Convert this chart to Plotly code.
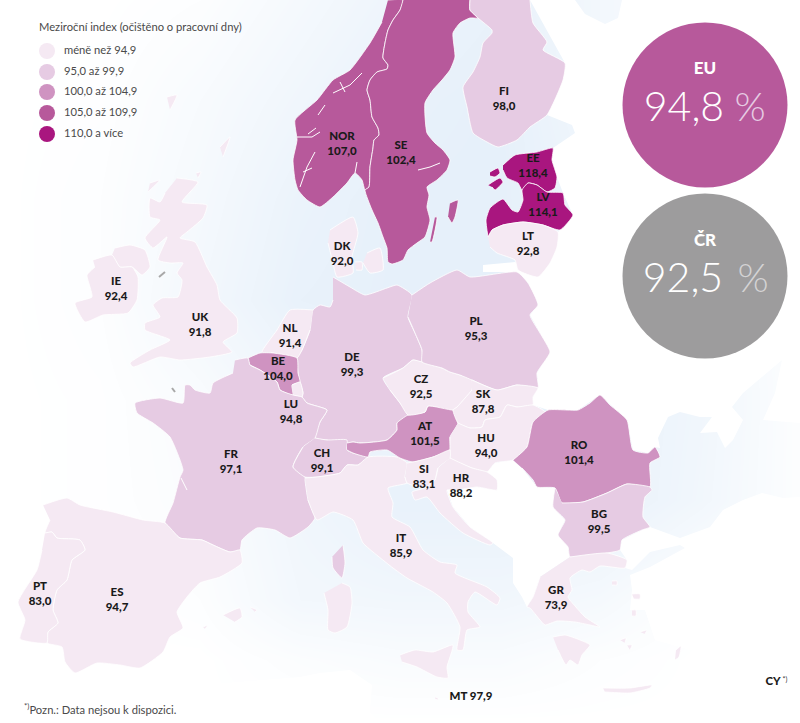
import plotly.graph_objects as go

# Colours of the five classes
class_colors = ["#f5e9f3", "#e6cbe3", "#cf93c1", "#b7599b", "#a9167f"]
legend_title = "Meziroční index (očištěno o pracovní dny)"
legend_labels = ["méně než 94,9", "95,0 až 99,9", "100,0 až 104,9", "105,0 až 109,9", "110,0 a více"]
legend_y = [51, 72, 92, 113, 134]

# Labels on the map
label_codes = ["NOR", "SE", "FI", "EE", "LV", "LT", "DK", "IE", "UK", "NL", "BE", "LU", "DE", "PL", "CZ", "SK",
               "AT", "HU", "RO", "SI", "HR", "CH", "FR", "BG", "IT", "GR", "ES", "PT"]
label_values = ["107,0", "102,4", "98,0", "118,4", "114,1", "92,8", "92,0", "92,4", "91,8", "91,4", "104,0", "94,8",
                "99,3", "95,3", "92,5", "87,8", "101,5", "94,0", "101,4", "83,1", "88,2", "99,1", "97,1", "99,5",
                "85,9", "73,9", "94,7", "83,0"]
label_x = [342, 401, 504, 533, 543, 528, 342, 116, 200, 290, 278, 291, 352, 476, 421, 483,
           425, 486, 579, 424, 461, 322, 231, 599, 401, 556, 117, 40]
label_y = [145, 154, 100, 167, 206, 245, 255, 290, 326, 337, 370, 413, 366, 330, 388, 403,
           435, 447, 454, 478, 487, 462, 463, 523, 547, 599, 601, 595]

# Country outlines in image pixels
norway = [(388, 0), (403, 0), (400, 10), (393, 20), (388, 30), (385, 43), (383, 58), (388, 65), (387, 69), (377, 72),
          (370, 80), (367, 90), (370, 100), (372, 117), (378, 128), (379, 135), (374, 140), (373, 148), (370, 167),
          (369, 187), (365, 190), (362, 180), (355, 173), (347, 183), (333, 197), (320, 207), (307, 200), (298, 190),
          (295, 180), (293, 160), (297, 140), (295, 120), (317, 100), (333, 80), (350, 70), (370, 43), (382, 22)]
sweden = [(403, 0), (400, 10), (393, 20), (388, 30), (385, 43), (383, 58), (388, 65), (387, 69), (377, 72), (370, 80),
          (367, 90), (370, 100), (372, 117), (378, 128), (379, 135), (374, 140), (373, 148), (370, 167), (369, 187),
          (365, 190), (368, 200), (372, 210), (378, 223), (383, 237), (387, 248), (388, 262), (392, 264), (403, 260),
          (408, 250), (417, 243), (425, 237), (430, 220), (427, 207), (429, 195), (427, 187), (437, 180), (447, 170),
          (450, 160), (443, 150), (435, 143), (427, 133), (425, 103), (433, 90), (442, 80), (450, 70), (455, 57),
          (453, 33), (460, 23), (470, 18), (478, 18), (470, 10), (470, 0), None,
          (450, 203), (458, 200), (455, 217), (452, 223), (448, 217), None,
          (435, 217), (437, 217), (432, 242), (430, 242)]
finland = [(470, 0), (470, 10), (478, 18), (492, 30), (492, 33), (483, 43), (480, 57), (473, 72), (463, 87), (467, 107),
           (473, 133), (487, 142), (498, 147), (517, 140), (530, 127), (547, 115), (563, 80), (565, 63), (543, 50),
           (547, 42), (533, 23), (530, 0)]
estonia = [(503, 165), (515, 155), (537, 152), (553, 148), (552, 160), (557, 177), (555, 188), (547, 192), (537, 185),
           (528, 183), (522, 190), (518, 183), (507, 178), (503, 170), None,
           (490, 172), (498, 168), (500, 173), (495, 177), (490, 176), None,
           (488, 185), (500, 178), (503, 182), (495, 190), (492, 187)]
latvia = [(488, 237), (486, 220), (490, 208), (503, 199), (512, 210), (518, 212), (523, 200), (522, 190), (528, 183),
          (537, 185), (547, 192), (563, 193), (565, 205), (573, 215), (560, 230), (543, 225), (523, 222), (503, 225),
          (492, 230)]
lithuania = [(488, 237), (492, 230), (503, 225), (523, 222), (543, 225), (558, 232), (557, 247), (550, 263), (538, 277),
             (518, 270), (515, 260), (497, 253), (490, 247)]
denmark = [(330, 230), (353, 217), (358, 233), (352, 257), (353, 273), (337, 277), (333, 263), (328, 243), None,
           (367, 253), (380, 248), (383, 270), (370, 273), (363, 263), None,
           (355, 262), (362, 262), (362, 270), (356, 270)]
germany = [(333, 277), (350, 287), (365, 295), (387, 288), (397, 285), (412, 295), (408, 317), (415, 333), (422, 350),
           (422, 362), (413, 360), (403, 368), (383, 378), (390, 390), (400, 403), (408, 415), (397, 423), (397, 430),
           (387, 440), (360, 443), (353, 442), (347, 443), (327, 440), (315, 438), (320, 422), (327, 410), (307, 403),
           (302, 397), (303, 393), (300, 382), (298, 373), (297, 358), (302, 350), (310, 330), (313, 310), (320, 305),
           (330, 307), (333, 300)]
netherlands = [(313, 310), (290, 310), (277, 330), (262, 352), (273, 353), (297, 358), (302, 350), (310, 330)]
belgium = [(248, 358), (260, 353), (273, 353), (297, 358), (298, 373), (300, 382), (292, 385), (293, 395), (280, 390),
           (277, 382), (260, 370), (250, 365)]
luxembourg = [(292, 385), (300, 382), (303, 393), (302, 397), (293, 395)]
france = [(235, 360), (248, 358), (250, 365), (260, 370), (277, 382), (280, 390), (293, 395), (302, 397), (307, 403),
          (327, 410), (320, 422), (315, 438), (303, 447), (293, 467), (305, 477), (305, 480), (308, 500), (315, 518),
          (308, 527), (290, 538), (275, 530), (257, 528), (242, 540), (240, 550), (230, 552), (213, 545), (202, 540),
          (180, 538), (165, 523), (173, 503), (180, 477), (183, 470), (170, 437), (153, 423), (137, 413), (135, 403),
          (160, 398), (183, 403), (185, 385), (190, 385), (195, 390), (210, 393), (213, 383), (233, 373), None,
          (343, 545), (345, 563), (342, 578), (333, 568), (332, 557)]
switzerland = [(315, 438), (327, 440), (347, 440), (347, 450), (353, 453), (368, 457), (358, 465), (347, 465), (340, 473),
               (317, 477), (305, 477), (293, 467), (303, 447)]
italy = [(305, 478), (317, 477), (340, 473), (347, 465), (358, 465), (368, 457), (397, 457), (407, 463), (405, 477),
         (407, 483), (388, 488), (393, 503), (392, 517), (410, 527), (423, 550), (440, 562), (457, 565), (455, 573),
         (487, 587), (500, 598), (497, 605), (475, 592), (468, 602), (468, 612), (480, 627), (467, 630), (463, 650),
         (457, 650), (460, 627), (447, 603), (433, 592), (407, 578), (393, 568), (373, 552), (363, 543), (353, 520),
         (333, 512), (317, 520), (308, 500), None,
         (342, 583), (350, 587), (352, 603), (347, 627), (335, 633), (328, 630), (328, 610), (324, 593), None,
         (400, 655), (415, 650), (433, 652), (453, 645), (447, 667), (448, 678), (437, 677), (417, 667), (402, 662)]
austria = [(347, 443), (353, 442), (360, 443), (387, 440), (397, 430), (397, 423), (408, 415), (425, 412), (428, 406),
           (453, 410), (458, 423), (450, 437), (450, 450), (433, 457), (413, 462), (400, 458), (387, 450), (370, 452),
           (368, 457), (353, 453), (347, 450)]
czechia = [(383, 378), (403, 368), (413, 360), (422, 362), (442, 368), (450, 372), (460, 375), (472, 380), (472, 390),
           (457, 407), (453, 410), (428, 406), (425, 412), (408, 415), (400, 403), (390, 390)]
poland = [(412, 295), (430, 283), (457, 270), (470, 277), (517, 272), (528, 283), (538, 305), (530, 315), (540, 333),
          (550, 352), (537, 373), (538, 388), (517, 385), (497, 390), (472, 380), (460, 375), (450, 372), (442, 368),
          (422, 362), (422, 350), (415, 333), (408, 317)]
slovakia = [(472, 380), (497, 390), (517, 385), (538, 388), (533, 397), (533, 405), (517, 407), (507, 405), (500, 417),
            (485, 420), (482, 427), (470, 428), (458, 423), (453, 410), (457, 407), (472, 390)]
hungary = [(458, 423), (470, 428), (482, 427), (485, 420), (500, 417), (507, 405), (517, 407), (533, 405), (545, 412),
           (533, 422), (527, 447), (513, 460), (495, 463), (487, 472), (472, 468), (450, 458), (450, 450), (450, 437)]
slovenia = [(407, 463), (413, 462), (433, 457), (450, 450), (450, 458), (438, 468), (435, 480), (425, 488), (407, 483),
            (405, 477)]
croatia = [(450, 458), (472, 468), (487, 472), (497, 480), (497, 490), (477, 487), (457, 490), (447, 490), (453, 507),
           (470, 527), (493, 543), (490, 545), (463, 533), (440, 513), (427, 497), (415, 500), (412, 492), (425, 488),
           (435, 480), (438, 468)]
romania = [(513, 460), (527, 447), (533, 422), (548, 410), (567, 410), (578, 410), (590, 403), (600, 395), (610, 405),
           (627, 420), (633, 450), (648, 453), (655, 447), (660, 457), (650, 463), (650, 487), (627, 484), (607, 493),
           (583, 502), (562, 503), (555, 488), (537, 487), (533, 480), (522, 468)]
bulgaria = [(562, 503), (583, 502), (607, 493), (627, 484), (650, 487), (652, 490), (645, 497), (643, 517), (650, 527),
            (642, 530), (622, 540), (620, 550), (607, 553), (570, 557), (568, 547), (558, 535), (565, 520), (553, 507),
            (555, 488)]
greece = [(570, 557), (607, 553), (627, 560), (625, 568), (600, 566), (590, 572), (582, 570), (570, 578), (572, 590),
          (568, 597), (575, 606), (585, 617), (600, 627), (590, 625), (575, 622), (557, 621), (545, 625), (540, 620),
          (530, 608), (527, 607), (533, 597), (540, 577), None,
          (553, 637), (565, 635), (580, 640), (590, 645), (582, 655), (578, 665), (570, 660), (566, 665), (558, 650), None,
          (603, 688), (630, 688), (652, 685), (650, 688), (630, 693), (605, 692), None,
          (632, 594), (640, 594), (640, 599), (634, 599), None,
          (632, 610), (636, 610), (636, 616), (632, 616), None,
          (612, 581), (617, 581), (617, 585), (612, 585), None,
          (676, 650), (681, 646), (679, 657), (675, 660), None,
          (620, 640), (626, 638), (625, 643), None, (640, 632), (647, 630), (645, 634), None,
          (627, 645), (632, 645), (630, 650)]
spain = [(43, 505), (67, 498), (80, 505), (113, 512), (143, 520), (165, 523), (180, 538), (202, 540), (213, 545),
         (230, 552), (240, 550), (242, 563), (220, 577), (200, 583), (187, 597), (177, 612), (183, 628), (170, 637),
         (163, 652), (140, 668), (120, 665), (97, 663), (75, 673), (65, 662), (62, 647), (47, 643), (48, 632), (58, 623),
         (53, 610), (57, 590), (67, 580), (72, 560), (85, 550), (80, 540), (57, 538), (52, 532), (45, 533), (50, 520), None,
         (223, 615), (240, 608), (242, 617), (235, 622), None,
         (250, 607), (257, 610), (255, 612), None, (203, 627), (208, 625), (205, 629)]
portugal = [(45, 533), (52, 532), (57, 538), (80, 540), (85, 550), (72, 560), (67, 580), (57, 590), (53, 610), (58, 623),
            (48, 632), (47, 643), (20, 639), (25, 620), (18, 602), (37, 570), (42, 550)]
britain = [(177, 178), (198, 182), (182, 202), (207, 205), (203, 218), (187, 232), (180, 238), (195, 242), (207, 267),
           (217, 285), (220, 300), (237, 318), (237, 333), (223, 342), (232, 352), (210, 357), (180, 360), (160, 357),
           (133, 367), (130, 363), (150, 350), (170, 340), (145, 330), (145, 323), (160, 317), (153, 305), (162, 298),
           (178, 297), (182, 280), (177, 273), (183, 263), (170, 263), (158, 260), (167, 237), (153, 248), (145, 238),
           (160, 220), (150, 217), (150, 198), (160, 202), (165, 193), None,
           (115, 248), (130, 245), (145, 250), (150, 267), (142, 275), (132, 267), (120, 267), (112, 255), None,
           (150, 183), (160, 180), (148, 192), None, (196, 173), (201, 172), (198, 178), None,
           (220, 147), (230, 137), (223, 157), None, (167, 97), (177, 95), (170, 110)]
ireland = [(93, 260), (112, 255), (120, 267), (132, 267), (138, 277), (137, 300), (128, 313), (103, 315), (85, 322),
           (75, 303), (92, 297), (90, 287), (87, 275), (95, 267)]
malta = [(435, 697), (438, 698), (438, 700), (435, 699)]

countries = [norway, sweden, finland, estonia, latvia, lithuania, denmark, germany, netherlands, belgium, luxembourg,
             france, switzerland, italy, austria, czechia, poland, slovakia, hungary, slovenia, croatia, romania,
             bulgaria, greece, spain, portugal, britain, ireland, malta]
# class index of each country, as coloured in the picture
country_classes = [3, 3, 1, 4, 4, 0, 0, 1, 0, 2, 0,
                   1, 1, 0, 2, 0, 1, 0, 0, 0, 0, 2,
                   1, 0, 0, 0, 0, 0, 0]

# Land outside the data stays white
russia = [(545, 0), (575, 0), (585, 14), (605, 24), (618, 18), (622, 0), (800, 0), (800, 423), (763, 420), (775, 393),
          (782, 360), (767, 373), (743, 393), (732, 407), (743, 420), (733, 440), (725, 448), (717, 432), (700, 433),
          (712, 417), (700, 417), (680, 412), (668, 417), (658, 438), (660, 448), (655, 447), (648, 453), (633, 450),
          (627, 420), (600, 395), (578, 410), (548, 410), (533, 405), (533, 397), (538, 388), (537, 373), (550, 352),
          (540, 333), (530, 315), (538, 305), (528, 283), (517, 272), (483, 272), (483, 265), (515, 262), (538, 277),
          (550, 263), (558, 232), (573, 215), (563, 193), (557, 177), (552, 160), (553, 148), (575, 133), (572, 125),
          (547, 115), (565, 63), (530, 0)]
balkans = [(513, 460), (495, 463), (487, 472), (497, 480), (497, 490), (477, 487), (457, 490), (447, 490), (453, 507),
           (470, 527), (493, 543), (513, 558), (513, 583), (522, 597), (527, 607), (533, 597), (540, 577), (570, 557),
           (568, 547), (558, 535), (565, 520), (553, 507), (555, 488), (537, 487), (522, 468)]
turkey = [(800, 497), (783, 498), (762, 493), (743, 500), (723, 510), (710, 527), (680, 538), (650, 527), (642, 530),
          (622, 540), (620, 550), (627, 560), (625, 568), (632, 570), (650, 552), (680, 545), (685, 548), (650, 567),
          (630, 575), (632, 590), (630, 610), (645, 610), (655, 640), (690, 650), (720, 640), (800, 610)]
africa = [(140, 690), (200, 685), (260, 680), (300, 677), (320, 673), (350, 670), (372, 685), (370, 712), (380, 723),
          (140, 723)]
white_land = [russia, balkans, turkey, africa]

# Fjords and lakes, thin white lines
fjords = [(297, 137), (312, 137), (320, 132), None, (308, 134), (316, 128), None, (300, 187), (307, 167), (315, 152), None,
          (303, 172), (312, 168), None, (333, 93), (350, 85), (362, 73), None, (340, 82), (345, 92), None,
          (325, 105), (318, 115), None, (418, 170), (430, 167), (440, 163), None, (355, 173), (357, 162), None,
          (181, 478), (187, 490)]
grey_islands = [(159, 277), (165, 272), None, (172, 388), (175, 392)]

# Tint of the sea, read on a coarse grid (0 white, 1 full blue)
sea_x = [0, 100, 200, 300, 400, 500, 600, 700, 800]
sea_y = [0, 100, 200, 300, 400, 500, 600, 660, 723]
sea_tint = [
    [0, 0, .1, .4, .7, .9, .5, .2, 0],
    [0, .05, .3, .6, .9, 1, .5, .3, .1],
    [0, .1, .4, .8, 1, 1, .7, .4, .1],
    [0, .1, .5, .9, 1, 1, .8, .5, .1],
    [0, .05, .25, .6, .8, .9, .9, .6, .1],
    [0, .05, .2, .6, .9, .9, .9, .55, .1],
    [0, 0, .1, .5, .55, .55, .4, .05, 0],
    [0, 0, 0, .15, .25, .25, .1, 0, 0],
    [0, 0, 0, 0, 0, 0, 0, 0, 0],
]

# Summary circles
circle_names = ["EU", "ČR"]
circle_values = ["94,8", "92,5"]
circle_x = [705, 705]
circle_y = [105, 276]
circle_colors = ["#b7599b", "#9d9c9d"]
percent_colors = ["#e6cbe3", "#d4d3d4"]

label_font = "Lato Black, Lato"
text_font = "Lato"


def unzip(points):
    xs = [p[0] if p else None for p in points]
    ys = [p[1] if p else None for p in points]
    return xs, ys


fig = go.Figure()

fig.add_trace(go.Heatmap(x=sea_x, y=sea_y, z=sea_tint, zmin=0, zmax=1, zsmooth="best", showscale=False,
                         colorscale=[[0, "#ffffff"], [1, "#e6f0fa"]], hoverinfo="skip"))

for land in white_land:
    xs, ys = unzip(land)
    fig.add_trace(go.Scatter(x=xs, y=ys, mode="lines", fill="toself", fillcolor="#ffffff",
                             line=dict(width=0, color="#ffffff"), hoverinfo="skip"))

for shape, cls in zip(countries, country_classes):
    xs, ys = unzip(shape)
    fig.add_trace(go.Scatter(x=xs, y=ys, mode="lines", fill="toself", fillcolor=class_colors[cls],
                             line=dict(width=0.8, color="#ffffff", shape="spline", smoothing=0.5), hoverinfo="skip"))

xs, ys = unzip(fjords)
fig.add_trace(go.Scatter(x=xs, y=ys, mode="lines", line=dict(width=1, color="#ffffff"), hoverinfo="skip"))
xs, ys = unzip(grey_islands)
fig.add_trace(go.Scatter(x=xs, y=ys, mode="lines", line=dict(width=2, color="#a8a8a8"), hoverinfo="skip"))

# country labels
fig.add_trace(go.Scatter(x=label_x, y=label_y, mode="text",
                         text=[c + "<br>" + v for c, v in zip(label_codes, label_values)],
                         textfont=dict(family=label_font, size=11.5, color="#1a1a1a", weight=900), hoverinfo="skip"))
fig.add_trace(go.Scatter(x=[471, 773], y=[697, 682], mode="text", text=["MT 97,9", "CY"],
                         textfont=dict(family=label_font, size=11.5, color="#1a1a1a", weight=900), hoverinfo="skip"))
fig.add_trace(go.Scatter(x=[785], y=[680], mode="text", text=["*)"],
                         textfont=dict(family=text_font, size=7, color="#333333"), hoverinfo="skip"))

# legend
fig.add_trace(go.Scatter(x=[47] * len(legend_y), y=legend_y, mode="markers",
                         marker=dict(size=16, color=class_colors, line=dict(width=0)), hoverinfo="skip"))
fig.add_trace(go.Scatter(x=[64] * len(legend_y), y=legend_y, mode="text", text=legend_labels, textposition="middle right",
                         textfont=dict(family=text_font, size=11.2, color="#4a4a4a"), hoverinfo="skip"))
fig.add_trace(go.Scatter(x=[39], y=[28], mode="text", text=[legend_title], textposition="middle right",
                         textfont=dict(family=text_font, size=11.2, color="#4a4a4a"), hoverinfo="skip"))

# circles
fig.add_trace(go.Scatter(x=circle_x, y=circle_y, mode="markers",
                         marker=dict(size=165, color=circle_colors, line=dict(width=0)), hoverinfo="skip"))
fig.add_trace(go.Scatter(x=circle_x, y=[105 - 35, 276 - 34], mode="text", text=circle_names,
                         textfont=dict(family=label_font, size=17, color="#ffffff", weight=900), hoverinfo="skip"))
fig.add_trace(go.Scatter(x=[684, 683], y=[c + 6 for c in circle_y], mode="text", text=circle_values,
                         textfont=dict(family=text_font, size=41, color="#ffffff", weight=300), hoverinfo="skip"))
fig.add_trace(go.Scatter(x=[750, 753], y=[c + 6 for c in circle_y], mode="text", text=["%", "%"],
                         textfont=dict(family=text_font, size=40, color=percent_colors, weight=300), hoverinfo="skip"))

# footnote
fig.add_trace(go.Scatter(x=[24], y=[711], mode="text", text=["<sup>*)</sup>Pozn.: Data nejsou k dispozici."],
                         textposition="middle right",
                         textfont=dict(family=text_font, size=11.2, color="#4a4a4a"), hoverinfo="skip"))

fig.update_layout(width=800, height=723, margin=dict(l=0, r=0, t=0, b=0), showlegend=False,
                  paper_bgcolor="#ffffff", plot_bgcolor="#ffffff",
                  xaxis=dict(range=[0, 800], visible=False, fixedrange=True),
                  yaxis=dict(range=[723, 0], visible=False, fixedrange=True))

fig.write_html("out.html", post_script="document.body.style.margin='0';", config=dict(displayModeBar=False))
